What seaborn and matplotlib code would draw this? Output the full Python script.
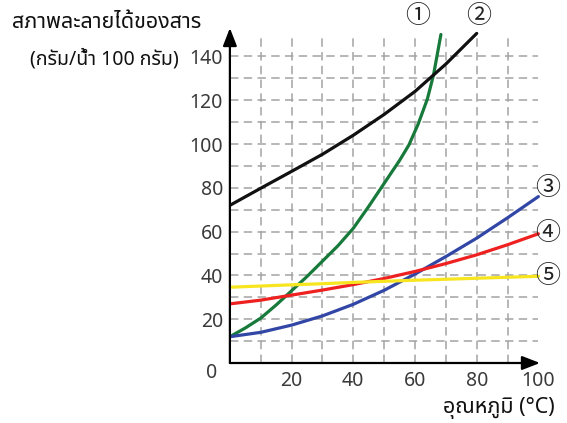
import numpy as np
import pandas as pd
import matplotlib
matplotlib.use("Agg")
import matplotlib.pyplot as plt
import seaborn as sns
from matplotlib import font_manager as fm
from matplotlib.ft2font import FT2Font

# ---------------- data ----------------
t1 = [0, 5, 10, 15, 20, 25, 30, 35, 40, 45, 50, 55, 58, 61, 64, 66, 68.4]
s1 = [12, 16, 20.5, 26.5, 33, 39.5, 46.5, 53.5, 61.5, 71.5, 82, 92.5, 99.5, 109, 120.5, 131.5, 150]  # curve 1 (green)
t2 = [0, 10, 20, 30, 40, 50, 60, 70, 80]
s2 = [72, 79.8, 87.5, 95.3, 104, 113.5, 124, 136.5, 150.5]                          # curve 2 (black)
t3 = [0, 10, 20, 30, 40, 50, 60, 70, 80, 90, 100]
s3 = [12, 14, 17.3, 21.5, 26.8, 33.2, 40.6, 48.6, 57, 66.3, 76]                     # curve 3 (blue)
t4 = [0, 10, 20, 30, 40, 50, 60, 70, 80, 90, 100]
s4 = [27, 28.7, 31, 33.3, 35.8, 38.6, 41.8, 45.4, 49.4, 54, 59]                     # curve 4 (red)
t5 = [0, 20, 30, 40, 50, 60, 80, 100]
s5 = [34.6, 35.7, 36.2, 36.8, 37.3, 37.8, 38.7, 39.6]                               # curve 5 (yellow)

series_names = ["①", "②", "③", "④", "⑤"]
x_ticks = [20, 40, 60, 80, 100]
y_ticks = [20, 40, 60, 80, 100, 120, 140]
y_title_1 = "สภาพละลายได้ของสาร"
y_title_2 = "(กรัม/น้ำ 100 กรัม)"
x_title = "อุณหภูมิ (°C)"

# ---------------- fonts ----------------
sns.set_theme(style="white")

def find_family(ch, preferred=()):
    cands = []
    for f in fm.fontManager.ttflist:
        try:
            cmap = FT2Font(f.fname).get_charmap()
        except Exception:
            continue
        if ord(ch) in cmap:
            cands.append(f.name)
    for p in preferred:
        if p in cands:
            return p
    return cands[0] if cands else None

thai = find_family("ส", preferred=("Noto Sans Thai", "Noto Sans Thai Looped", "Sarabun", "Loma", "Garuda", "Norasi", "Tlwg Typo", "Kinnari", "Waree"))
fams = ([thai] if thai else []) + ["Noto Sans", "DejaVu Sans"]
plt.rcParams["font.family"] = fams
circ_fams = ["Noto Sans CJK JP", "DejaVu Sans"]

# ---------------- figure ----------------
W, H = 567, 423
fig = plt.figure(figsize=(W / 100, H / 100), dpi=100)
x0px, y0px = 229.9, 363
xr, yr = 3.085, 2.19
xmax, ymax = (540 - x0px) / xr, (y0px - 28) / yr
ax = fig.add_axes([x0px / W, (H - y0px) / H, (540 - x0px) / W, (y0px - 28) / H])
ax.set_xlim(0, xmax)
ax.set_ylim(0, ymax)

grid_c = "#a3a3a3"
ax.hlines(np.arange(10, 150, 10), 0, 100, colors=grid_c, linestyles=(0, (5.5, 3.5)), lw=1.1, zorder=1)
ax.vlines(np.arange(10, 100, 10), 0, 150, colors=grid_c, linestyles=(0, (5.5, 3.5)), lw=1.1, zorder=1)

df = pd.concat([
    pd.DataFrame({"t": t1, "s": s1, "curve": series_names[0]}),
    pd.DataFrame({"t": t2, "s": s2, "curve": series_names[1]}),
    pd.DataFrame({"t": t3, "s": s3, "curve": series_names[2]}),
    pd.DataFrame({"t": t4, "s": s4, "curve": series_names[3]}),
    pd.DataFrame({"t": t5, "s": s5, "curve": series_names[4]}),
], ignore_index=True)
palette = {series_names[0]: "#17793a", series_names[1]: "#111111", series_names[2]: "#3246a6",
           series_names[3]: "#ee2020", series_names[4]: "#f6e51f"}
sns.lineplot(data=df, x="t", y="s", hue="curve", palette=palette, estimator=None,
             sort=False, lw=2.3, legend=False, ax=ax, zorder=3)
for ln in ax.get_lines():
    ln.set_solid_joinstyle("round")
    ln.set_solid_capstyle("round")

# axes with arrows
for sp in ax.spines.values():
    sp.set_visible(False)
ax.annotate("", xy=(1, 0), xytext=(0, 0), xycoords="axes fraction",
            arrowprops=dict(arrowstyle="-|>,head_length=0.9,head_width=0.35", color="black", lw=1.6,
                            shrinkA=0, shrinkB=0), zorder=5)
ax.annotate("", xy=(0, 1), xytext=(0, 0), xycoords="axes fraction",
            arrowprops=dict(arrowstyle="-|>,head_length=0.9,head_width=0.35", color="black", lw=1.6,
                            shrinkA=0, shrinkB=0), zorder=5)

ax.set_xticks(x_ticks)
ax.set_yticks(y_ticks)
ax.set_xticklabels([str(v) for v in x_ticks])
ax.set_yticklabels([str(v) for v in y_ticks])
ax.tick_params(axis="both", length=0, labelsize=14, labelcolor="#3a3a3a")
ax.tick_params(axis="x", pad=6)
ax.tick_params(axis="y", pad=5)
ax.set_xlabel("")
ax.set_ylabel("")
ax.grid(False)

# origin label
ax.text(-6, -4.5, "0", ha="center", va="center", fontsize=14, color="#3a3a3a", clip_on=False)

# circled curve labels
lab_pos = [(61, 158.4), (80.7, 158.4), (103.1, 80), (103.1, 59.4), (103.1, 39.7)]
for name, (lx, ly) in zip(series_names, lab_pos):
    ax.text(lx, ly, name, ha="center", va="center", fontsize=18, family=circ_fams,
            color="#222222", clip_on=False)

# titles
fig.text(12 / W, 1 - 22 / H, y_title_1, ha="left", va="center", fontsize=15.5, color="#111111")
fig.text(30 / W, 1 - 59 / H, y_title_2, ha="left", va="center", fontsize=14, color="#111111")
fig.text(443 / W, 1 - 408 / H, x_title, ha="left", va="center", fontsize=15.5, color="#111111")

fig.savefig("out.png", dpi=100)
